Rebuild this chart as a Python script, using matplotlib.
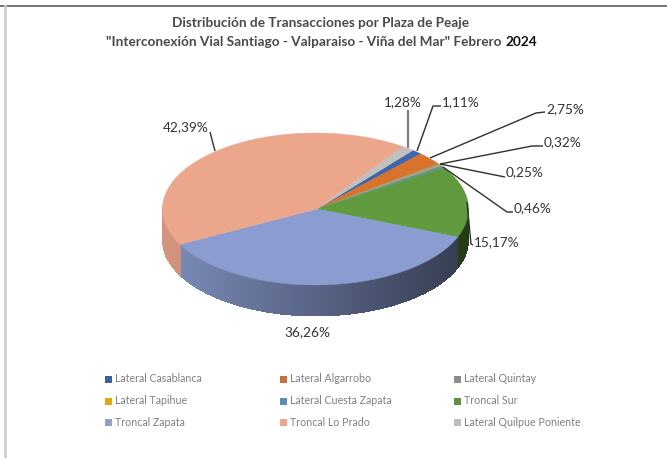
import matplotlib
matplotlib.use("Agg")
import matplotlib.pyplot as plt
import numpy as np
from matplotlib.patches import Polygon, Rectangle

plt.rcParams['font.family'] = ['Lato', 'DejaVu Sans']

names = ["Lateral Casablanca", "Lateral Algarrobo", "Lateral Quintay",
         "Lateral Tapihue", "Lateral Cuesta Zapata", "Troncal Sur",
         "Troncal Zapata", "Troncal Lo Prado", "Lateral Quilpue Poniente"]
values = [1.11, 2.75, 0.32, 0.25, 0.46, 15.17, 36.26, 42.39, 1.28]
pie_colors = ["#3f66ad", "#d9732c", "#8f9a8f", "#d9a520", "#5b8fb5",
              "#5f9a3e", "#8a9cd0", "#eca68c", "#c0c0bc"]
legend_colors = ["#3f5f9f", "#c5703a", "#8c8c8c", "#e0a818", "#5b8db0",
                 "#5f8f45", "#8fa0c8", "#e8a88c", "#bcbcbc"]
title_1 = "Distribución de Transacciones por Plaza de Peaje"
title_2 = "\"Interconexión Vial Santiago - Valparaiso - Viña del Mar\" Febrero "
title_year = "2024"

# pie geometry, in image pixels
cx, cy, rx, ry = 315.5, 209, 153, 76
depth = 31
start = 39.5

# label text position and leader path for each slice
labels = [
    (461, 102, [(441, 106), (433, 106), (417, 151)], "#303030", 1.0),
    (565, 109, [(545, 112), (536, 113), (430, 158)], "#303030", 1.0),
    (563, 142, [(543, 146), (532, 146), (440, 164)], "#303030", 1.0),
    (525, 172, [(505, 177), (485, 173), (440, 164)], "#303030", 1.0),
    (533, 208, [(513, 212), (507, 212), (443, 167)], "#303030", 1.0),
    (497, 242, [(473, 245), (471, 244), (467, 202)], "#303030", 1.0),
    (307, 332, None, None, 0),
    (186, 127, [(210, 132), (215, 151)], "#303030", 1.0),
    (403, 102, [(408, 110), (408, 148)], "#7f7f7f", 1.6),
]


def ellipse_pt(theta, dy=0):
    t = np.radians(theta)
    return cx + rx * np.sin(t), cy - ry * np.cos(t) + dy


fig = plt.figure(figsize=(6.67, 4.58), dpi=100)
ax = fig.add_axes([0, 0, 1, 1])
ax.set_xlim(0, 667)
ax.set_ylim(458, 0)
ax.axis("off")

# frame left over from the screenshot
ax.plot([0, 667], [5.5, 5.5], color="#6a6a6a", lw=1.3)
ax.plot([5, 5], [6, 458], color="#cfcfcf", lw=2)

edges = start + np.cumsum([0] + values) * 3.6 * 100 / sum(values)

# side wall first, thin overlapping quads so the shading looks smooth
for i in range(len(values)):
    a0, a1 = edges[i], edges[i + 1]
    steps = np.arange(a0, a1, 0.25).tolist() + [a1]
    for p, q in zip(steps[:-1], steps[1:]):
        if np.cos(np.radians((p + q) / 2)) > 0:
            continue
        q2 = min(q + 1.0, a1)
        x0, y0 = ellipse_pt(p)
        x1, y1 = ellipse_pt(q2)
        xm = ellipse_pt((p + q) / 2)[0]
        shade = 0.38 + 0.52 * (1 - (xm - (cx - rx)) / (2 * rx))
        col = np.array(matplotlib.colors.to_rgb(pie_colors[i])) * shade
        ax.add_patch(Polygon([(x0, y0), (x1, y1), (x1, y1 + depth), (x0, y0 + depth)],
                             fc=col, ec="none", antialiased=False, zorder=2))

# top face
for i in range(len(values)):
    angles = np.linspace(edges[i], edges[i + 1], max(int(values[i] * 3.6), 2) + 1)
    pts = [(cx + 1.5, cy)] + [ellipse_pt(a) for a in angles]
    ax.add_patch(Polygon(pts, fc=pie_colors[i], ec=pie_colors[i], lw=0.3, zorder=3))

# data labels and leaders
for val, (lx, ly, path, col, lw) in zip(values, labels):
    ax.text(lx, ly, f"{val:.2f}%".replace(".", ","), ha="center", va="center",
            fontsize=9.8, color="#333333", zorder=6)
    if path:
        xs, ys = zip(*path)
        ax.plot(xs, ys, color=col, lw=lw, zorder=5, solid_capstyle="butt")

# title
ax.text(320, 23, title_1, ha="center", va="center", fontsize=9.8,
        fontweight="bold", color="#4a4a4a")
fig.canvas.draw()
t2 = ax.text(106, 42, title_2, ha="left", va="center", fontsize=9.8,
             fontweight="bold", color="#4a4a4a")
bb = t2.get_window_extent(fig.canvas.get_renderer())
ax.text(bb.x1 + 1, 42, title_year, ha="left", va="center", fontsize=9.8,
        fontweight="bold", color="#111111")

# legend
col_x = [105, 279.5, 454]
row_y = [379, 401, 422]
for i, name in enumerate(names):
    x = col_x[i % 3]
    y = row_y[i // 3]
    ax.add_patch(Rectangle((x, y - 3.5), 7, 7, fc=legend_colors[i], ec="none"))
    ax.text(x + 10, y, name, ha="left", va="center", fontsize=7.7, color="#808080")

fig.savefig("out.png", dpi=100)
